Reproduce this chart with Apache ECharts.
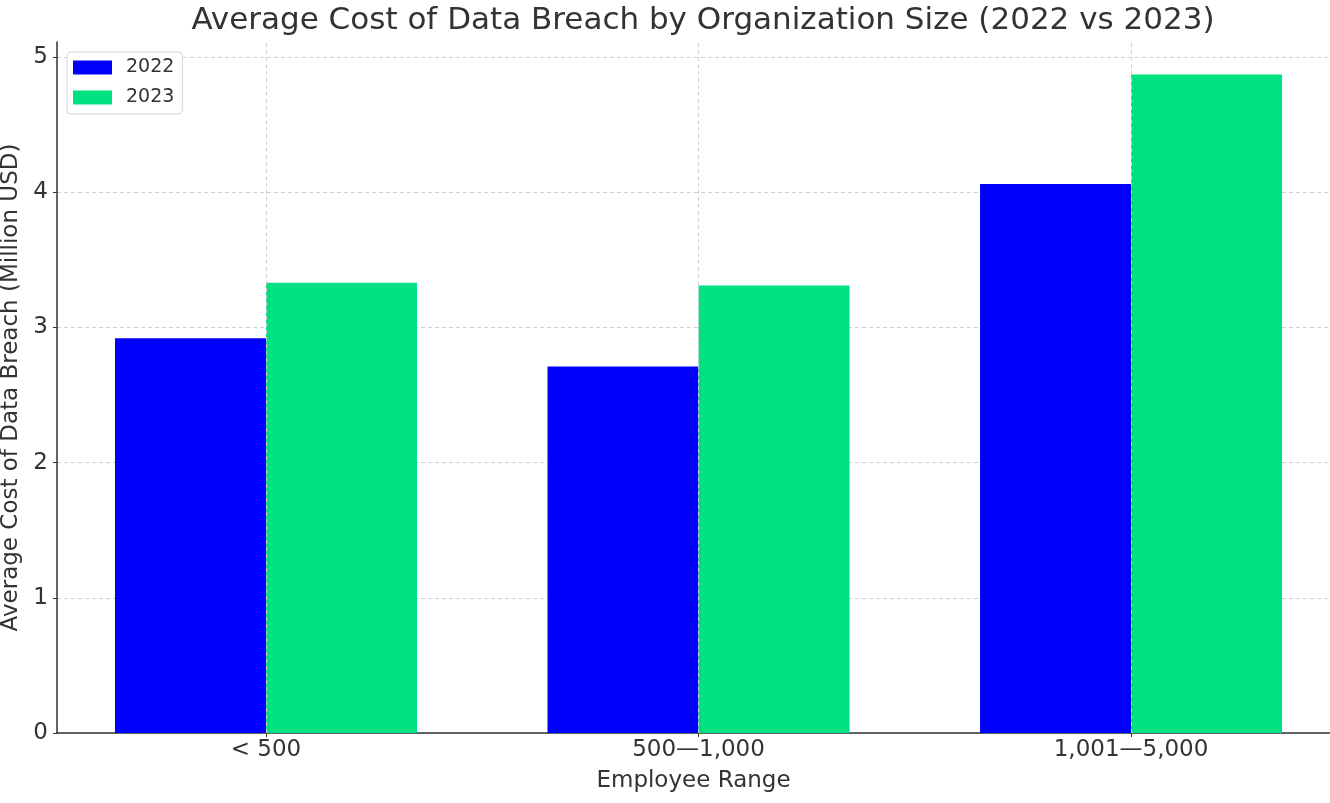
<!DOCTYPE html>
<html>
<head>
<meta charset="utf-8">
<script src="https://cdn.jsdelivr.net/npm/echarts@6/dist/echarts.min.js"></script>
<style>
  html, body { margin: 0; padding: 0; background: #fff; }
  #chart { width: 1330px; height: 803px; }
</style>
</head>
<body>
<div id="chart"></div>
<script>
// data
const categories = ["< 500", "500\u20141,000", "1,001\u20145,000"];
const cost2022 = [2.92, 2.71, 4.06];
const cost2023 = [3.33, 3.31, 4.87];
const yTicks = [0, 1, 2, 3, 4, 5];

const font = "DejaVu Sans";
const idx = categories.map((c, i) => i);
const toPoints = (arr) => arr.map((v, i) => [i, v]);

let chart = echarts.init(document.getElementById("chart"));
let option = {
  backgroundColor: "#fff",
  animation: false,
  textStyle: { fontFamily: font },
  title: {
    text: "Average Cost of Data Breach by Organization Size (2022 vs 2023)",
    left: 698,
    textAlign: "center",
    top: 0,
    textStyle: { fontFamily: font, fontSize: 31, fontWeight: "normal", color: "#333" },
  },
  legend: {
    data: ["2022", "2023"],
    orient: "vertical",
    left: 67,
    top: 52,
    icon: "rect",
    itemWidth: 39,
    itemHeight: 14,
    itemGap: 11,
    padding: [6, 8, 7, 6],
    backgroundColor: "#fff",
    borderColor: "#d4d4d4",
    borderWidth: 1,
    borderRadius: 4,
    textStyle: { fontFamily: font, fontSize: 19, color: "#333", padding: [0, 0, 0, 9] },
  },
  grid: { left: 57, right: 0, top: 42, bottom: 70, outerBoundsMode: "none" },
  xAxis: {
    type: "value",
    min: -0.4832,
    max: 2.46,
    name: "Employee Range",
    nameLocation: "middle",
    nameGap: 37,
    nameTextStyle: { fontFamily: font, fontSize: 23, color: "#333" },
    axisLine: { show: true, lineStyle: { color: "#333", width: 1.5 } },
    axisTick: { show: true, customValues: idx, length: 4, lineStyle: { color: "#333" } },
    axisLabel: {
      customValues: idx,
      formatter: (v) => categories[Math.round(v)],
      fontFamily: font,
      fontSize: 23,
      color: "#333",
      margin: 6,
    },
    splitLine: { show: false },
  },
  yAxis: {
    type: "value",
    min: 0,
    max: 5.11,
    interval: 1,
    name: "Average Cost of Data Breach (Million USD)",
    nameLocation: "middle",
    nameGap: 31,
    nameTextStyle: { fontFamily: font, fontSize: 23, color: "#333" },
    axisLine: { show: true, onZero: false, lineStyle: { color: "#333", width: 1.5 } },
    axisTick: { show: true, length: 4, lineStyle: { color: "#333" } },
    axisLabel: {
      fontFamily: font,
      fontSize: 23,
      color: "#333",
      margin: 9,
      showMaxLabel: false,
      formatter: (v) => (yTicks.includes(v) ? String(v) : ""),
    },
    splitLine: {
      show: true,
      showMaxLine: false,
      lineStyle: { color: "#d0d0d0", type: [4, 3], width: 1 },
    },
  },
  series: [
    {
      // vertical grid lines at category centres, drawn behind bars
      type: "line",
      name: "grid",
      data: [],
      z: 0,
      silent: true,
      markLine: {
        silent: true,
        symbol: "none",
        label: { show: false },
        lineStyle: { color: "#d0d0d0", type: [4, 3], width: 1 },
        data: idx.map((i) => ({ xAxis: i })),
      },
    },
    {
      name: "2022",
      type: "bar",
      data: toPoints(cost2022),
      barWidth: 151,
      barGap: "0%",
      itemStyle: { color: "#0000ff" },
    },
    {
      name: "2023",
      type: "bar",
      data: toPoints(cost2023),
      barWidth: 151,
      barGap: "0%",
      itemStyle: { color: "#00e282" },
    },
  ],
};
option && chart.setOption(option);
</script>
</body>
</html>
